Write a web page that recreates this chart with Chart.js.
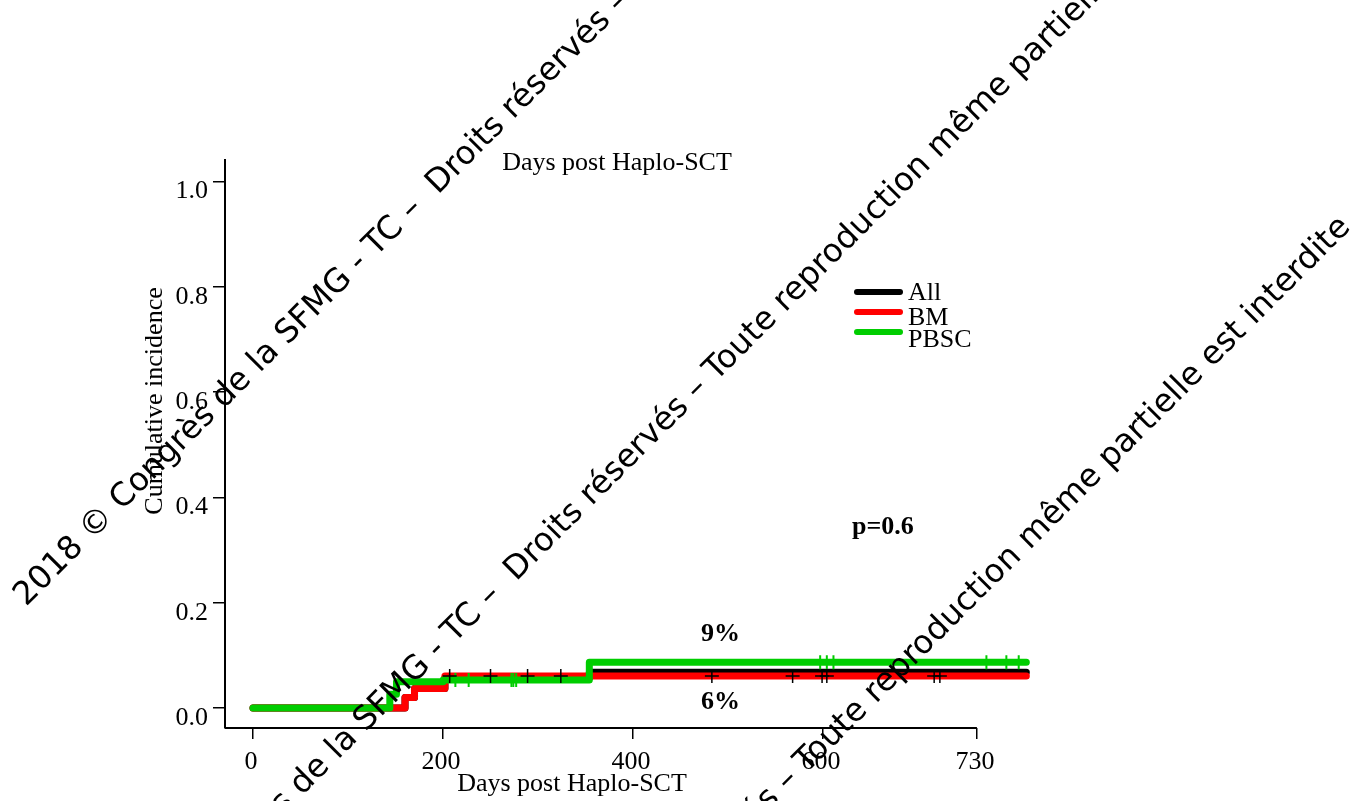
<!DOCTYPE html>
<html>
<head>
<meta charset="utf-8">
<script src="https://cdn.jsdelivr.net/npm/chart.js@4.4.1/dist/chart.umd.min.js"></script>
<style>
  html, body { margin: 0; padding: 0; background: #fff; }
  canvas { display: block; }
</style>
</head>
<body>
<canvas id="chart" width="1363" height="801"></canvas>
<script>
// Step curves: day of each event and the cumulative incidence after it.
const allDays = [0, 160, 170, 202, 354, 814];
const allInc = [0, 0.020, 0.037, 0.057, 0.068, 0.068];
const bmDays = [0, 160, 170, 202, 814];
const bmInc = [0, 0.020, 0.037, 0.061, 0.061];
const pbscDays = [0, 144, 151, 200, 354, 814];
const pbscInc = [0, 0.026, 0.050, 0.053, 0.087, 0.087];

// Censored patients (the "+" marks).
const bmCensorDays = [207, 250, 289, 324, 483, 568, 599, 604, 717, 723];
const pbscCensorDays = [213, 227, 272, 274, 277, 597, 604, 611, 772, 793, 806];

const yTicks = [0, 0.2, 0.4, 0.6, 0.8, 1.0];
const xTicks = [0, 200, 400, 600, 762];
const xTickLabels = ["0", "200", "400", "600", "730"];

const seriesNames = ["All", "BM", "PBSC"];
const seriesColors = ["#000000", "#ff0000", "#00cd00"];

const xTitle = "Days post Haplo-SCT";
const yTitle = "Cumulative incidence";
const watermark = "2018 © Congrès de la SFMG - TC –  Droits réservés – Toute reproduction même partielle est interdite";

const SERIF = "'Liberation Serif', 'Times New Roman', serif";

function toPoints(days, inc) {
    return days.map((d, i) => ({ x: d, y: inc[i] }));
}

function levelAt(days, inc, t) {
    let v = inc[0];
    for (let i = 0; i < days.length; i++) if (days[i] <= t) v = inc[i];
    return v;
}

function stepLine(label, days, inc, color, order) {
    return {
        label: label,
        data: toPoints(days, inc),
        borderColor: color,
        borderWidth: 7,
        borderCapStyle: "round",
        borderJoinStyle: "round",
        stepped: true,
        pointRadius: 0,
        fill: false,
        order: order,
    };
}

function censorMarks(days, levelDays, levelInc, color, width, order) {
    return {
        data: days.map(d => ({ x: d, y: levelAt(levelDays, levelInc, d) })),
        showLine: false,
        pointStyle: "cross",
        pointRadius: 7,
        pointBorderColor: color,
        pointBorderWidth: width,
        order: order,
    };
}

// extra drawing: x axis line with R style gap, titles, legend, labels, watermark
const overlay = {
    id: "overlay",
    afterDraw(chart) {
        const ctx = chart.ctx;
        const xs = chart.scales.x, ys = chart.scales.y;
        const area = chart.chartArea;
        ctx.save();

        ctx.strokeStyle = "#000";
        ctx.lineWidth = 2;
        ctx.beginPath();
        ctx.moveTo(area.left, area.bottom);
        ctx.lineTo(xs.getPixelForValue(xTicks[xTicks.length - 1]), area.bottom);
        ctx.stroke();

        ctx.fillStyle = "#000";
        ctx.textAlign = "center";
        ctx.textBaseline = "middle";
        ctx.font = "26px " + SERIF;
        ctx.fillText(xTitle, 617, 163);
        ctx.fillText(xTitle, 572, 784);

        ctx.save();
        ctx.translate(155, 401);
        ctx.rotate(-Math.PI / 2);
        ctx.fillText(yTitle, 0, 0);
        ctx.restore();

        ctx.font = "bold 26px " + SERIF;
        ctx.fillText("9%", xs.getPixelForValue(492), ys.getPixelForValue(0.140));
        ctx.fillText("6%", xs.getPixelForValue(492), ys.getPixelForValue(0.011));
        ctx.fillText("p=0.6", xs.getPixelForValue(663), ys.getPixelForValue(0.344));

        // legend
        const lineY = [292, 312, 332];
        const textY = [293, 318, 340];
        ctx.font = "26px " + SERIF;
        ctx.textAlign = "left";
        ctx.lineCap = "round";
        seriesNames.forEach((name, i) => {
            ctx.strokeStyle = seriesColors[i];
            ctx.lineWidth = 6;
            ctx.beginPath();
            ctx.moveTo(857, lineY[i]);
            ctx.lineTo(900, lineY[i]);
            ctx.stroke();
            ctx.fillStyle = "#000";
            ctx.fillText(name, 908, textY[i]);
        });

        // watermark, three parallel lines at 45 degrees
        const ang = Math.PI / 4;
        ctx.font = "32.5px 'DejaVu Sans'";
        ctx.textBaseline = "alphabetic";
        ctx.fillStyle = "#000";
        const rows = [
            { anchor: "Droits", x: 438, y: 195 },
            { anchor: "de la SFMG", x: 302, y: 796 },
            { anchor: "– Toute", x: 788, y: 792 },
        ];
        rows.forEach(r => {
            const w = ctx.measureText(watermark.slice(0, watermark.indexOf(r.anchor))).width;
            const ox = r.x - w * Math.cos(ang);
            const oy = r.y + w * Math.sin(ang);
            ctx.save();
            ctx.translate(ox, oy);
            ctx.rotate(-ang);
            ctx.fillText(watermark, 0, 0);
            ctx.restore();
        });

        ctx.restore();
    },
};

new Chart(document.getElementById("chart"), {
    type: "line",
    data: {
        datasets: [
            censorMarks(bmCensorDays, bmDays, bmInc, "#000000", 1.5, 0),
            censorMarks(pbscCensorDays, pbscDays, pbscInc, seriesColors[2], 2, 1),
            stepLine("PBSC", pbscDays, pbscInc, seriesColors[2], 2),
            stepLine("BM", bmDays, bmInc, seriesColors[1], 3),
            stepLine("All", allDays, allInc, seriesColors[0], 4),
        ],
    },
    options: {
        responsive: false,
        animation: false,
        devicePixelRatio: 1,
        layout: { padding: { left: 139, top: 160, right: 323, bottom: 0 } },
        plugins: { legend: { display: false }, tooltip: { enabled: false } },
        scales: {
            x: {
                type: "linear",
                min: -29.5,
                max: 828.4,
                afterFit: s => { s.height = 73; },
                afterBuildTicks: s => { s.ticks = xTicks.map(v => ({ value: v })); },
                ticks: {
                    autoSkip: false,
                    maxRotation: 0,
                    padding: 8,
                    labelOffset: -2,
                    color: "#000",
                    font: { family: SERIF, size: 26 },
                    callback: (v, i) => xTickLabels[i],
                },
                grid: { drawOnChartArea: false, tickLength: 11, color: "#000", lineWidth: 1.5 },
                border: { display: false },
            },
            y: {
                type: "linear",
                min: -0.038,
                max: 1.041,
                afterFit: s => { s.width = 86; },
                afterBuildTicks: s => { s.ticks = yTicks.map(v => ({ value: v })); },
                ticks: {
                    padding: 5,
                    labelOffset: 10,
                    color: "#000",
                    font: { family: SERIF, size: 26 },
                    callback: v => v.toFixed(1),
                },
                grid: { drawOnChartArea: false, tickLength: 12, color: "#000", lineWidth: 1.5 },
                border: { display: true, color: "#000", width: 2 },
            },
        },
    },
    plugins: [overlay],
});
</script>
</body>
</html>
